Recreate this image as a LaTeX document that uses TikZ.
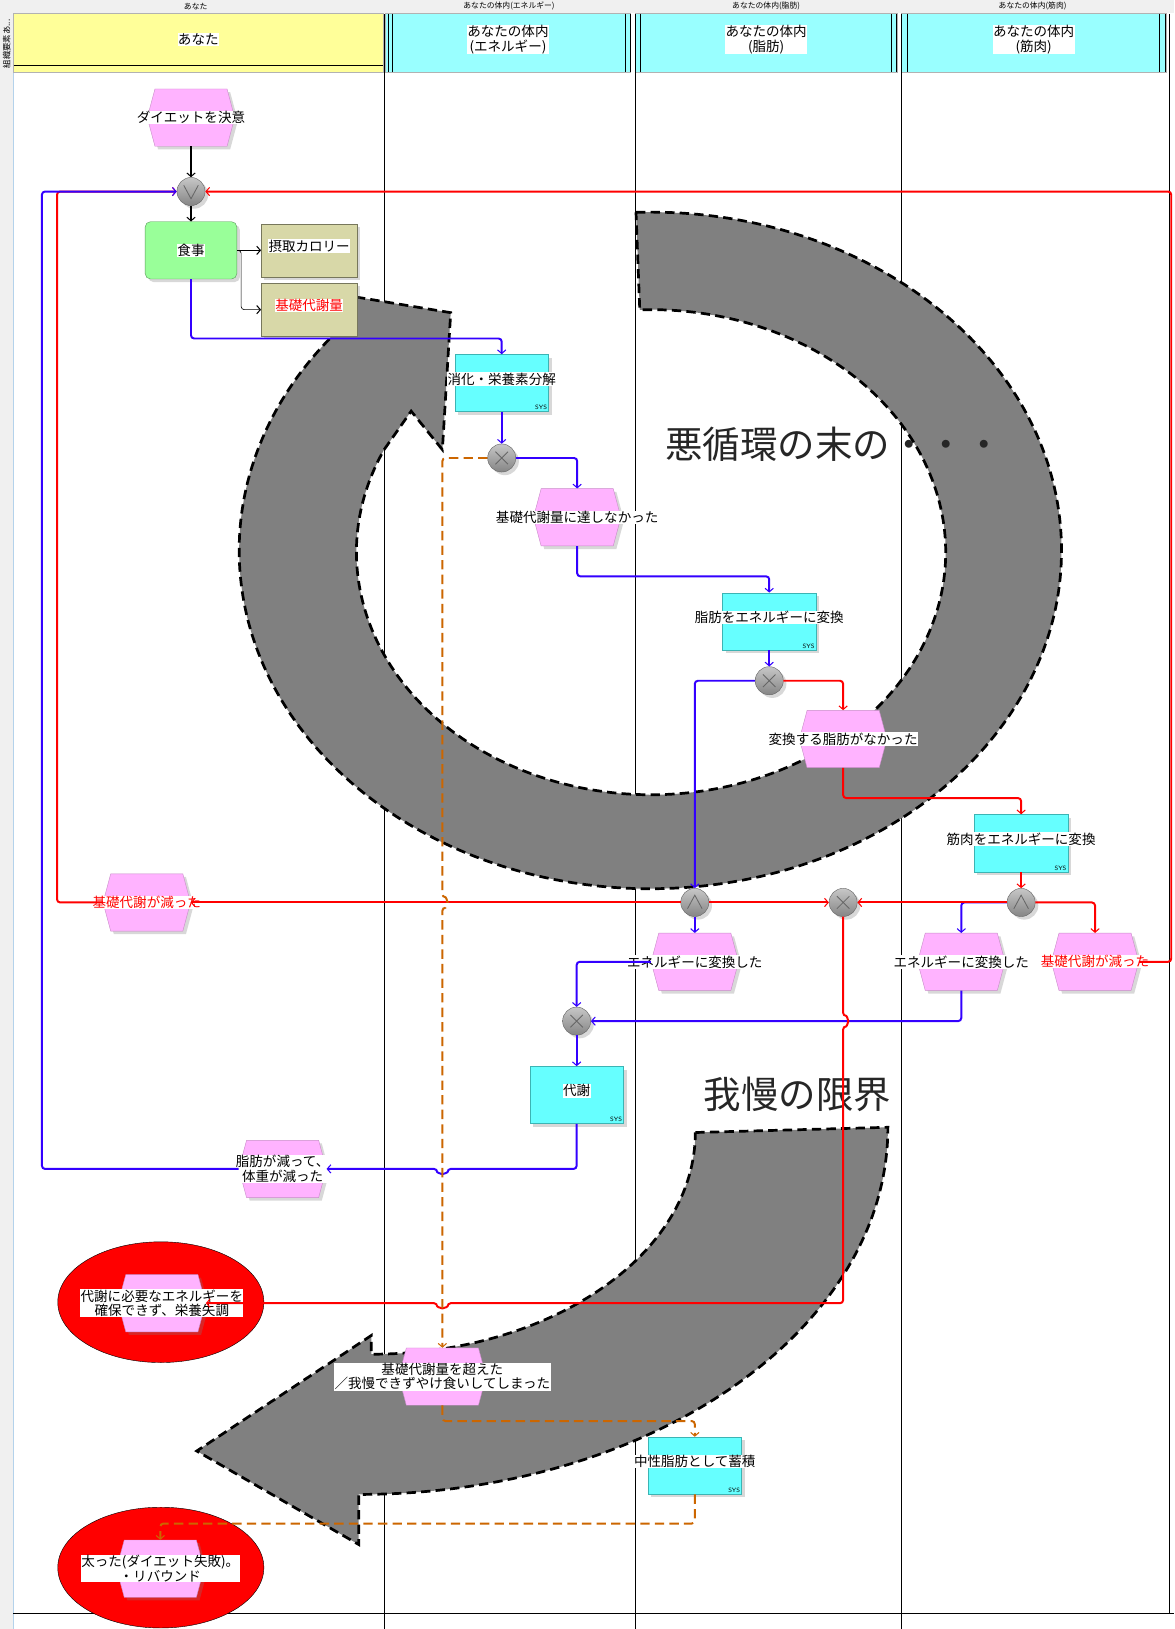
\documentclass[tikz,border=0pt]{standalone}
\usepackage{fontspec}
\setmainfont{Noto Sans CJK JP}
\usetikzlibrary{positioning,arrows.meta,shapes.geometric,shapes.symbols,shadows}

\definecolor{laneyellow}{RGB}{255,255,153}
\definecolor{lanecyan}{RGB}{153,255,255}
\definecolor{evpink}{RGB}{255,179,255}
\definecolor{evborder}{RGB}{200,140,200}
\definecolor{fncyan}{RGB}{102,255,255}
\definecolor{fnborder}{RGB}{60,180,180}
\definecolor{mealgreen}{RGB}{153,255,153}
\definecolor{khaki}{RGB}{216,216,168}
\definecolor{flowblue}{RGB}{51,0,255}
\definecolor{floworange}{RGB}{204,102,0}
\definecolor{ringgray}{RGB}{128,128,128}
\definecolor{stripgray}{RGB}{240,240,240}
\definecolor{edgeblue}{RGB}{180,210,235}

\begin{document}
\begin{tikzpicture}[x=1pt,y=-1pt,
  >={Straight Barb[length=3.5pt,width=8pt,line width=1pt]},
  txt/.style={fill=white,inner sep=0.4pt,align=center,font=\fontsize{13}{14}\selectfont},
  boxshadow/.style={drop shadow={opacity=0.3,shadow xshift=3pt,shadow yshift=-3pt}},
  event/.style={signal,signal to=west and east,signal pointer angle=150,fill=evpink,draw=evborder,
    minimum width=84pt,minimum height=55pt,inner sep=0pt,boxshadow,label={[txt]center:#1}},
  func/.style={rectangle,fill=fncyan,draw=fnborder,minimum width=90pt,minimum height=55pt,
    inner sep=0pt,boxshadow,label={[txt,yshift=4pt]center:#1},label={[sysmark]south east:SYS}},
  sysmark/.style={anchor=south east,inner sep=1.5pt,font=\sffamily\fontsize{6}{6}\selectfont},
  activity/.style={rectangle,rounded corners=5pt,fill=mealgreen,draw=mealgreen!60!black,
    minimum width=88pt,minimum height=55pt,inner sep=0pt,boxshadow,label={[txt]center:#1}},
  infobox/.style={rectangle,fill=khaki,draw=khaki!55!black,minimum width=92pt,minimum height=51pt,
    inner sep=0pt,boxshadow,label={[txt,yshift=4pt]center:#1},
    path picture={\fill ([shift={(-4pt,4pt)}]path picture bounding box.south east) circle (2.2pt);}},
  gate/.style={circle,draw=black!60,top color=black!22,bottom color=black!48,minimum size=27pt,inner sep=0pt,boxshadow},
  xorgate/.style={gate,path picture={\draw[line width=0.8pt]
    ([shift={(-6pt,-6pt)}]path picture bounding box.center) -- ([shift={(6pt,6pt)}]path picture bounding box.center)
    ([shift={(-6pt,6pt)}]path picture bounding box.center) -- ([shift={(6pt,-6pt)}]path picture bounding box.center);}},
  orgate/.style={gate,path picture={\draw[line width=0.8pt]
    ([shift={(-7pt,6pt)}]path picture bounding box.center) -- ([shift={(0pt,-7pt)}]path picture bounding box.center)
    -- ([shift={(7pt,6pt)}]path picture bounding box.center);}},
  andgate/.style={gate,path picture={\draw[line width=0.8pt]
    ([shift={(-7pt,-6pt)}]path picture bounding box.center) -- ([shift={(0pt,7pt)}]path picture bounding box.center)
    -- ([shift={(7pt,-6pt)}]path picture bounding box.center);}},
  goal/.style={ellipse,fill=red,draw=black,minimum width=198pt,minimum height=116pt,inner sep=0pt},
  lanehead/.style={rectangle,minimum height=56pt,inner sep=0pt,draw=black!30,label={[txt,yshift=3pt]center:#1}},
  caption/.style={inner sep=0pt,font=\fontsize{7.5}{8}\selectfont},
  bigtext/.style={anchor=west,inner sep=0pt,text=black!85,font=\fontsize{36}{40}\selectfont},
  ringshape/.style={fill=ringgray,draw=black,line width=2.6pt,dash pattern=on 9pt off 5pt},
  blackarrow/.style={->,line width=1.2pt},
  thinarrow/.style={->,line width=0.6pt,rounded corners=3pt},
  bluearrow/.style={->,draw=flowblue,line width=1.9pt,rounded corners=3pt},
  redarrow/.style={->,draw=red,line width=1.9pt,rounded corners=3pt},
  orangearrow/.style={->,draw=floworange,line width=1.9pt,dash pattern=on 9pt off 5pt,rounded corners=3pt}]

\useasboundingbox (0,0) rectangle (1128,1565);

% page, captions and lane heads
\fill[white] (0,0) rectangle (1128,1565);
\fill[stripgray] (0,0) rectangle (1128,12.5);
\fill[stripgray] (0,0) rectangle (12.5,1565);
\draw[edgeblue] (12.5,69) -- (12.5,1565);
\node[caption,rotate=90,font=\fontsize{8}{8}\selectfont] (orgname) at (6.5,42) {組織要素あ...};
\node[caption] (cap1) at (188,6) {あなた};
\node[caption] (cap2) at (489,6) {あなたの体内(エネルギー)};
\node[caption] (cap3) at (736,6) {あなたの体内(脂肪)};
\node[caption] (cap4) at (992,6) {あなたの体内(筋肉)};

\node[lanehead=あなた,fill=laneyellow,minimum width=355pt] (head1) at (190.5,41) {};
\node[lanehead={あなたの体内\\(エネルギー)},fill=lanecyan,minimum width=235pt] (head2) at (488,41) {};
\node[lanehead={あなたの体内\\(脂肪)},fill=lanecyan,minimum width=251pt] (head3) at (736,41) {};
\node[lanehead={あなたの体内\\(筋肉)},fill=lanecyan,minimum width=254pt] (head4) at (993,41) {};
\draw (13,62.5) -- (368,62.5);
\draw (372.5,13) -- (372.5,69) (376.5,13) -- (376.5,69) (601,13) -- (601,69) (605.5,13) -- (605.5,69)
      (615.5,13) -- (615.5,69) (856.5,13) -- (856.5,69) (861,13) -- (861,69) (871.5,13) -- (871.5,69)
      (1114,13) -- (1114,69) (1119,13) -- (1119,69);
\draw (369,13) -- (369,1565) (610.5,13) -- (610.5,1565) (866,13) -- (866,1565)
      (1123,13) -- (1123,1549.5) (12.5,1549.5) -- (1128,1549.5);

% the two big arrows
\draw[ringshape] (611,204) arc[start angle=-92,end angle=218.6,x radius=395,y radius=325]
  -- (343,285.5) -- (433,300.4) -- (425,432) -- (395,395) -- (369,432)
  arc[start angle=205,end angle=-92.2,x radius=283,y radius=233] -- cycle;
\draw[ringshape] (668,1088) -- (853,1083) arc[start angle=0,end angle=90,x radius=508.4,y radius=352.7]
  -- (344.6,1483.8) -- (189,1394) -- (356.7,1283) -- (356.7,1301)
  arc[start angle=90,end angle=0,x radius=311.3,y radius=213] -- cycle;
\node[bigtext] (vicious) at (639,427) {悪循環の末の・・・};
\node[bigtext] (limit) at (676,1051) {我慢の限界};

% nodes
\node[event=ダイエットを決意] (decide) at (183.5,113) {};
\node[orgate] (join) at (183.5,184) {};
\node[activity=食事] (meal) at (183.5,240.5) {};
\node[infobox=摂取カロリー] (kcal) at (297,240.5) {};
\node[infobox={\textcolor{red}{基礎代謝量}}] (bmr) at (297,297.5) {};
\node[func=消化・栄養素分解] (digest) at (482,368) {};
\node[xorgate] (xor1) at (482,440) {};
\node[event=基礎代謝量に達しなかった] (notreach) at (554.5,497) {};
\node[func=脂肪をエネルギーに変換] (fatconv) at (739,597) {};
\node[xorgate] (xor2) at (739,654) {};
\node[event=変換する脂肪がなかった] (nofat) at (810,710) {};
\node[func=筋肉をエネルギーに変換] (muscconv) at (981,810) {};
\node[andgate] (and1) at (667.5,867) {};
\node[xorgate] (xor3) at (810,867) {};
\node[andgate] (and2) at (981,867) {};
\node[event={\textcolor{red}{基礎代謝が減った}}] (bmrdown1) at (141,867) {};
\node[event=エネルギーに変換した] (conv1) at (667.5,924) {};
\node[event=エネルギーに変換した] (conv2) at (923.5,924) {};
\node[event={\textcolor{red}{基礎代謝が減った}}] (bmrdown2) at (1052,924) {};
\node[xorgate] (xor4) at (554,981) {};
\node[func=代謝] (metab) at (554,1052) {};
\node[event={脂肪が減って、\\体重が減った}] (weightdown) at (271.5,1123) {};
\node[goal] (starveoval) at (154.5,1251) {};
\node[event={代謝に必要なエネルギーを\\確保できず、栄養失調}] (starve) at (155.5,1252) {};
\node[event={基礎代謝量を超えた\\／我慢できずやけ食いしてしまった}] (binge) at (425,1322.5) {};
\node[func=中性脂肪として蓄積] (tg) at (667.5,1408) {};
\node[goal] (reboundoval) at (154.5,1506) {};
\node[event={太った(ダイエット失敗)。\\・リバウンド}] (rebound) at (154,1507) {};

\coordinate (j1) at (binge.north |- weightdown.east);
\coordinate (j2) at (xor3.south |- xor4.east);
\coordinate (j3) at (binge.north |- starve.east);
\coordinate (j4) at (binge.north |- bmrdown1.east);

% connectors
\draw[blackarrow] (decide.south) -- (join.north);
\draw[blackarrow] (join.south) -- (meal.north);
\draw[thinarrow] (meal.east) -- (kcal.west);
\draw[thinarrow] (meal.east) -- ++(4,0) |- (bmr.west);

\draw[redarrow] (bmrdown1.west) -- ++(-44,0) |- (join.west);

\draw[bluearrow] (meal.south) -- ++(0,57) -| (digest.north);
\draw[bluearrow] (digest.south) -- (xor1.north);
\draw[bluearrow] (xor1.east) -| (notreach.north);
\draw[bluearrow] (notreach.south) -- ++(0,29) -| (fatconv.north);
\draw[bluearrow] (fatconv.south) -- (xor2.north);
\draw[bluearrow] (xor2.west) -| (and1.north);
\draw[bluearrow] (and1.south) -- (conv1.north);
\draw[bluearrow] (and2.west) -| (conv2.north);
\draw[bluearrow] (conv1.west) -| (xor4.north);
\draw[bluearrow] (conv2.south) |- (xor4.east);
\draw[bluearrow] (xor4.south) -- (metab.north);
\draw[bluearrow] (metab.south) |- ([xshift=5pt]j1) arc[start angle=0,end angle=180,radius=5] -- (weightdown.east);
\draw[bluearrow] (weightdown.west) -- ++(-189,0) |- (join.west);

\draw[redarrow] (xor2.east) -| (nofat.north);
\draw[redarrow] (nofat.south) -- ++(0,29) -| (muscconv.north);
\draw[redarrow] (muscconv.south) -- (and2.north);
\draw[redarrow] (and2.east) -| (bmrdown2.north);
\draw[redarrow] (bmrdown2.east) -- ++(31,0) |- (join.east);
\draw[redarrow] (and2.west) -- (xor3.east);
\draw[redarrow] (and1.east) -- (xor3.west);
\draw[redarrow] (and1.west) -- (bmrdown1.east);
\draw[redarrow] (xor3.south) -- ([yshift=5pt]j2) arc[start angle=-90,end angle=90,radius=5]
  |- ([xshift=5pt]j3) arc[start angle=0,end angle=180,radius=5] -- (starve.east);

\draw[orangearrow] (xor1.west) -| ([yshift=5pt]j4) arc[start angle=-90,end angle=90,radius=5] -- (binge.north);
\draw[orangearrow] (binge.south) -- ++(0,15) -| (tg.north);
\draw[orangearrow] (tg.south) -- ++(0,28) -| (rebound.north);

\end{tikzpicture}
\end{document}
